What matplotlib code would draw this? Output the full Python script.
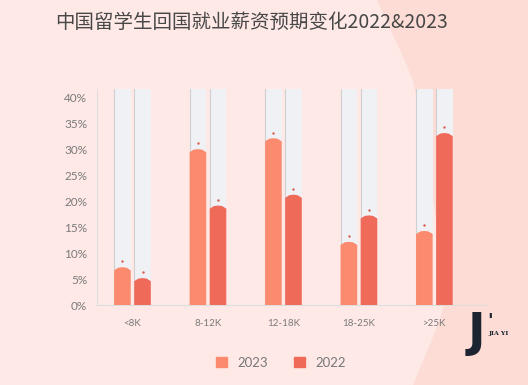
import matplotlib
matplotlib.use("Agg")
import matplotlib.pyplot as plt
from matplotlib.patches import Polygon, Rectangle
import numpy as np

categories = ["<8K", "8-12K", "12-18K", "18-25K", ">25K"]
values_2023 = [7.3, 30.1, 32.2, 12.2, 14.3]
values_2022 = [5.2, 19.2, 21.3, 17.3, 33.2]
series_names = ["2023", "2022"]
yticks = [0, 5, 10, 15, 20, 25, 30, 35, 40]
title = "中国留学生回国就业薪资预期变化2022&2023"

c2023 = "#fb8a6e"
c2022 = "#f06a5a"
bgcol = "#f0f1f4"

W, H = 528, 385
fig = plt.figure(figsize=(W / 100, H / 100), dpi=100)
fig.patch.set_facecolor("#fee9e6")

# right darker background region
pts = [(377, 0), (400, 50), (413, 80), (428, 160), (440, 250), (445, 300),
       (440, 320), (413, 385), (528, 385), (528, 0)]
bgpoly = Polygon([(x / W, 1 - y / H) for x, y in pts], closed=True,
                 transform=fig.transFigure, facecolor="#fcdcd5",
                 edgecolor="none", zorder=-5)
fig.patches.append(bgpoly)

left, right, top, bottom = 97, 488, 89, 305
ax = fig.add_axes([left / W, 1 - bottom / H, (right - left) / W, (bottom - top) / H])
ax.set_facecolor("none")
ax.set_zorder(1)

x = np.arange(len(categories))
ymax = 41.7
ax.set_ylim(0, ymax)
ax.set_xlim(-0.47, 4.71)

w = 0.22
off = 0.133
for vals, sign, col in [(values_2023, -1, c2023), (values_2022, 1, c2022)]:
    xs = x + sign * off
    ax.bar(xs, [ymax] * len(xs), width=w, color=bgcol, zorder=1)
    for xi, v in zip(xs, vals):
        ax.plot([xi - w / 2, xi - w / 2], [0, ymax], color="#cfcfd2", lw=0.8, zorder=2)
        poly = Polygon([(xi - w / 2, 0), (xi + w / 2, 0), (xi + w / 2, v - 0.6),
                        (xi + w * 0.25, v - 0.1), (xi, v), (xi - w * 0.25, v - 0.1),
                        (xi - w / 2, v - 0.6)], closed=True, facecolor=col,
                       edgecolor="none", zorder=3)
        ax.add_patch(poly)
        ax.scatter([xi], [v + 1.1], s=3, color="#d95a4e", zorder=4, linewidths=0)

for s in ["top", "right"]:
    ax.spines[s].set_visible(False)
ax.spines["left"].set_color("#dddddd")
ax.spines["bottom"].set_color("#dddddd")
ax.spines["left"].set_linewidth(0.8)
ax.spines["bottom"].set_linewidth(0.8)

ax.set_yticks(yticks)
ax.set_yticklabels([f"{t}%" for t in yticks], fontfamily="Lato", fontsize=8.5, color="#7a7a7a")
ax.set_xticks(x)
ax.set_xticklabels(categories, fontfamily="Lato", fontsize=7, color="#7a7a7a")
ax.tick_params(axis="y", length=0, pad=7)
ax.tick_params(axis="x", length=0, pad=10)

fig.text(55 / W, 1 - 22 / H, title, fontfamily=["Noto Sans CJK SC", "DejaVu Sans"],
         fontsize=14, color="#474747", va="center", ha="left")

# legend
handles = [Rectangle((0, 0), 1, 1, color=c2023), Rectangle((0, 0), 1, 1, color=c2022)]
leg = fig.legend(handles, series_names, loc="center", bbox_to_anchor=(281 / W, 1 - 363 / H),
                 ncol=2, frameon=False, handlelength=0.8, handleheight=0.8,
                 columnspacing=2.0, handletextpad=0.8,
                 prop={"family": "Lato", "size": 9.5})
for t in leg.get_texts():
    t.set_color("#777777")

# logo
fig.text(476 / W, 1 - 334 / H, "J", fontfamily="DejaVu Sans", fontsize=34,
         fontweight="bold", color="#1b2430", ha="center", va="center")
fig.text(487 / W, 1 - 321 / H, "'", fontfamily="DejaVu Sans", fontsize=13,
         fontweight="bold", color="#1b2430", ha="left", va="center")
fig.text(488 / W, 1 - 334 / H, "JIA YI", fontfamily="DejaVu Serif", fontsize=4.5,
         fontweight="bold", color="#1b2430", ha="left", va="center")

fig.savefig("out.png", dpi=100, facecolor=fig.get_facecolor())
